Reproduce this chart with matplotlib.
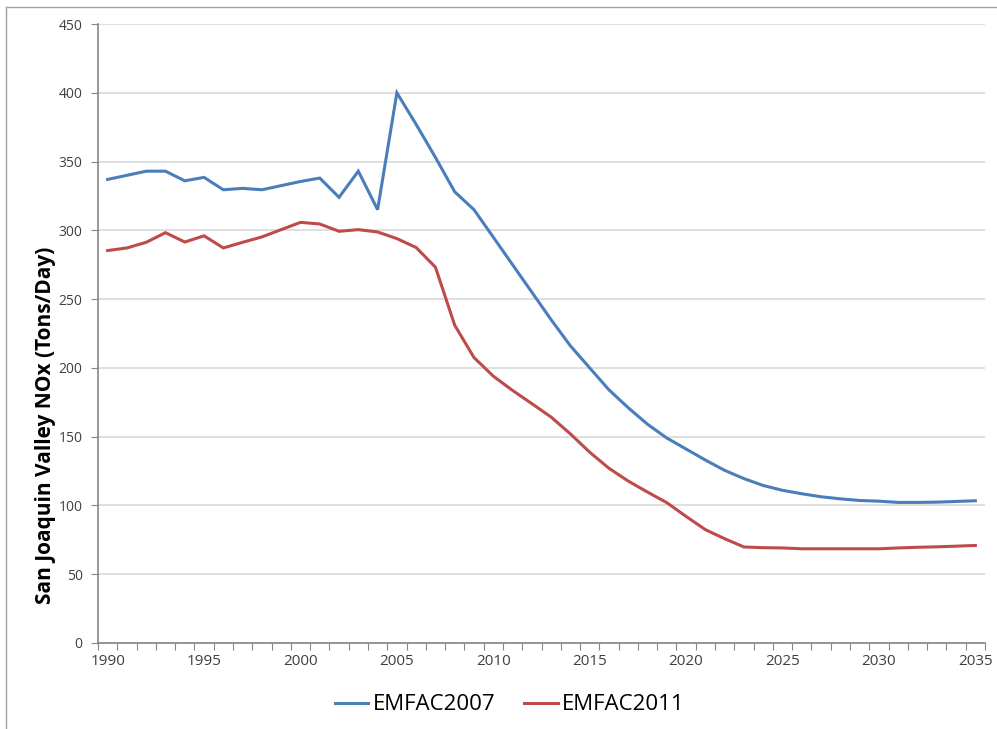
import numpy as np
import matplotlib.pyplot as plt
from matplotlib.lines import Line2D

plt.rcParams['font.family'] = ['Open Sans', 'DejaVu Sans']

years = list(range(1990, 2036))

# San Joaquin Valley NOx, tons per day
emfac2007 = [337, 340, 343, 343, 336, 338.5, 329.5, 330.5, 329.5, 332.5,
             335.5, 338, 324, 343, 315, 400, 377, 353, 328, 315,
             295, 275, 255, 235, 216, 200, 184, 171, 159, 149,
             141, 133, 125.5, 119.5, 114.5, 111, 108.5, 106.3, 104.8, 103.6,
             103.1, 102.2, 102.2, 102.4, 102.9, 103.4]
emfac2011 = [285.3, 287.2, 291.3, 298.3, 291.5, 296, 287.2, 291.3, 295.2, 300.5,
             305.8, 304.6, 299.3, 300.5, 298.8, 294, 287.5, 273.2, 231, 207.5,
             194, 183.6, 174, 164.2, 152, 138.7, 127, 117.7, 109.7, 102,
             92, 82.4, 75.8, 69.8, 69.3, 69.1, 68.5, 68.5, 68.5, 68.5,
             68.5, 69.1, 69.6, 69.9, 70.4, 70.9]
series_names = ['EMFAC2007', 'EMFAC2011']
colors = ['#4A7EBB', '#BE4B48']

fig = plt.figure(figsize=(9.97, 7.29), dpi=100)
ax = fig.add_axes([98 / 997, 1 - 643 / 729, (985 - 98) / 997, (643 - 24) / 729])

x = np.arange(len(years))
ax.plot(x, emfac2007, color=colors[0], lw=2.2, solid_joinstyle='miter')
ax.plot(x, emfac2011, color=colors[1], lw=2.2, solid_joinstyle='miter')

ax.set_xlim(-0.5, len(years) - 0.5)
ax.set_ylim(0, 450)
ax.set_yticks(np.arange(0, 451, 50))
ax.yaxis.grid(True, color='#D9D9D9', lw=1.2)
ax.set_axisbelow(True)

# category axis: ticks between years, labels every 5 years
ax.set_xticks(np.arange(-0.5, len(years) - 0.4, 1))
ax.set_xticklabels([])
ax.set_xticks(x[::5], minor=True)
ax.set_xticklabels([str(y) for y in years[::5]], minor=True)
ax.tick_params(axis='x', which='major', length=5, color='#868686', direction='out')
ax.tick_params(axis='x', which='minor', length=0, pad=8, labelsize=11, labelcolor='#404040')
ax.tick_params(axis='y', length=5, color='#868686', labelsize=10, labelcolor='#404040', pad=6)

for side in ['top', 'right']:
    ax.spines[side].set_visible(False)
for side in ['left', 'bottom']:
    ax.spines[side].set_color('#868686')
    ax.spines[side].set_linewidth(1.2)

fig.text(45 / 997, 1 - 425 / 729, 'San Joaquin Valley NOx (Tons/Day)', rotation=90,
         ha='center', va='center', fontsize=15, fontweight='bold', color='black')

handles = [Line2D([], [], color=c, lw=2.2) for c in colors]
fig.legend(handles, series_names, loc='center', bbox_to_anchor=(510 / 997, 1 - 705 / 729),
           ncol=2, frameon=False, fontsize=16, handlelength=1.5, handletextpad=0.2,
           columnspacing=1.3)

# chart frame (top and left edges)
fig.add_artist(Line2D([6 / 997, 6 / 997], [0, 1 - 7 / 729], transform=fig.transFigure,
                      color='#A0A0A0', lw=1))
fig.add_artist(Line2D([6 / 997, 1], [1 - 7 / 729, 1 - 7 / 729], transform=fig.transFigure,
                      color='#A0A0A0', lw=1))

fig.savefig('out.png', dpi=100)
